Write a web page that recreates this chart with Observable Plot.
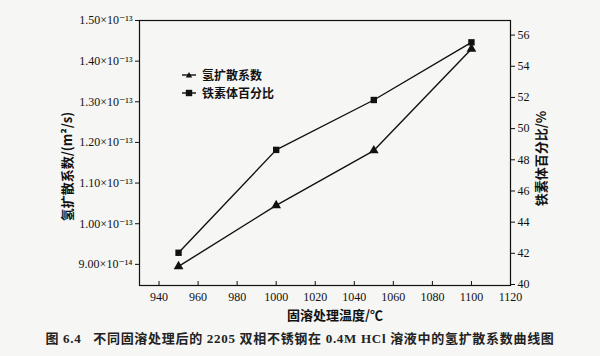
<!DOCTYPE html>
<html><head><meta charset="utf-8">
<script src="https://cdn.jsdelivr.net/npm/d3@7"></script>
<script src="https://cdn.jsdelivr.net/npm/@observablehq/plot@0.6"></script>
<style>
body{margin:0;background:#f6f6f4;}
#wrap{position:relative;width:600px;height:356px;overflow:hidden;background:#f6f6f4;}
#chart svg{display:block;background:transparent;}
#chart svg text{font-family:"Liberation Serif","DejaVu Serif",serif !important;font-size:12px;}
.legend{position:absolute;left:182px;top:66px;font-family:"Noto Sans CJK SC",sans-serif;font-weight:700;font-size:12px;color:#111;line-height:18px;}
.legend div{display:flex;align-items:center;height:18px;}
.legend svg{margin-right:6px;}
.axlabel{position:absolute;font-family:"Noto Sans CJK SC",sans-serif;font-weight:700;font-size:13px;color:#111;white-space:nowrap;transform-origin:center center;}
.caption{position:absolute;left:0;top:328px;width:600px;text-align:center;font-family:"Liberation Serif","Noto Sans CJK SC",serif;font-weight:700;font-size:13px;color:#222;letter-spacing:0.7px;white-space:pre;}
</style></head><body>
<div id="wrap"><div id="chart"></div>
<div class="legend" id="legend"></div>
<div class="axlabel" id="xlab"></div>
<div class="axlabel" id="ylabL"></div>
<div class="axlabel" id="ylabR"></div>
<div class="caption" id="caption"></div></div>
<script>
const temperatures = [950, 1000, 1050, 1100];
const diffusion = [0.895, 1.045, 1.18, 1.43];   // ×10^-13 m²/s
const ferrite = [42.1, 48.7, 51.9, 55.6];        // %
const xTicks = [940, 960, 980, 1000, 1020, 1040, 1060, 1080, 1100, 1120];
const leftTicks = [0.9, 1.0, 1.1, 1.2, 1.3, 1.4, 1.5];
const leftTickLabels = ["9.00×10⁻¹⁴", "1.00×10⁻¹³", "1.10×10⁻¹³", "1.20×10⁻¹³", "1.30×10⁻¹³", "1.40×10⁻¹³", "1.50×10⁻¹³"];
const rightTicks = [40, 42, 44, 46, 48, 50, 52, 54, 56];
const xDomain = [930, 1120];
const leftDomain = [0.848, 1.5];
const rightDomain = [40, 57];
const seriesNames = ["氢扩散系数", "铁素体百分比"];
const xLabel = "固溶处理温度/℃";
const leftLabel = "氢扩散系数/(m²/s)";
const rightLabel = "铁素体百分比/%";
const captionText = "图 6.4   不同固溶处理后的 2205 双相不锈钢在 0.4M HCl 溶液中的氢扩散系数曲线图";

const toLeft = v => leftDomain[0] + (v - rightDomain[0]) / (rightDomain[1] - rightDomain[0]) * (leftDomain[1] - leftDomain[0]);
const fromLeft = v => rightDomain[0] + (v - leftDomain[0]) / (leftDomain[1] - leftDomain[0]) * (rightDomain[1] - rightDomain[0]);

const dData = temperatures.map((t, i) => ({t, v: diffusion[i]}));
const fData = temperatures.map((t, i) => ({t, v: toLeft(ferrite[i])}));

const serif = "Liberation Serif, serif";
const ink = "#111";

const plot = Plot.plot({
  width: 600, height: 325,
  marginTop: 20, marginBottom: 40, marginLeft: 139, marginRight: 90,
  style: {background: "transparent", color: ink, fontFamily: serif, fontSize: "12px"},
  x: {domain: xDomain},
  y: {domain: leftDomain},
  marks: [
    Plot.frame({stroke: ink, strokeWidth: 1.2}),
    Plot.axisX(xTicks, {tickSize: 0, tickPadding: 7, fontSize: 12, label: null, tickFormat: d => String(d)}),
    Plot.ruleX(xTicks, {x: d => d, insetTop: 261, stroke: ink, strokeWidth: 1}),
    Plot.axisY(leftTicks, {anchor: "left", tickSize: 4, tickPadding: 3, fontSize: 12, label: null,
      tickFormat: d => leftTickLabels[leftTicks.indexOf(d)]}),
    Plot.axisY(rightTicks.map(toLeft), {anchor: "right", tickSize: 4, tickPadding: 3, fontSize: 12, label: null, dy: -1,
      tickFormat: d => String(Math.round(fromLeft(d)))}),
    Plot.line(dData, {x: "t", y: "v", stroke: ink, strokeWidth: 1.4}),
    Plot.dot(dData, {x: "t", y: "v", symbol: "triangle", r: 3.6, fill: ink, stroke: "none"}),
    Plot.line(fData, {x: "t", y: "v", stroke: ink, strokeWidth: 1.4}),
    Plot.dot(fData, {x: "t", y: "v", symbol: "square", r: 3.6, fill: ink, stroke: "none"})
  ]
});
document.getElementById("chart").appendChild(plot);

function placeLabel(id, text, cx, cy, rot) {
  const el = document.getElementById(id);
  el.textContent = text;
  const w = el.offsetWidth, h = el.offsetHeight;
  el.style.left = (cx - w / 2) + "px";
  el.style.top = (cy - h / 2) + "px";
  if (rot) el.style.transform = `rotate(${rot}deg)`;
}
placeLabel("xlab", xLabel, 335, 314, 0);
placeLabel("ylabL", leftLabel, 66, 166, -90);
placeLabel("ylabR", rightLabel, 541, 158, -90);

const legend = document.getElementById("legend");
const markerPaths = [
  '<path d="M0,5H14" stroke="#111" stroke-width="1.4"/><path d="M7,2L10.2,7.5H3.8Z" fill="#111"/>',
  '<path d="M0,5H14" stroke="#111" stroke-width="1.4"/><rect x="3.8" y="1.8" width="6.4" height="6.4" fill="#111"/>'
];
seriesNames.forEach((name, i) => {
  const row = document.createElement("div");
  row.innerHTML = `<svg width="14" height="10">${markerPaths[i]}</svg><span>${name}</span>`;
  legend.appendChild(row);
});
document.getElementById("caption").textContent = captionText;
</script>
</body></html>
